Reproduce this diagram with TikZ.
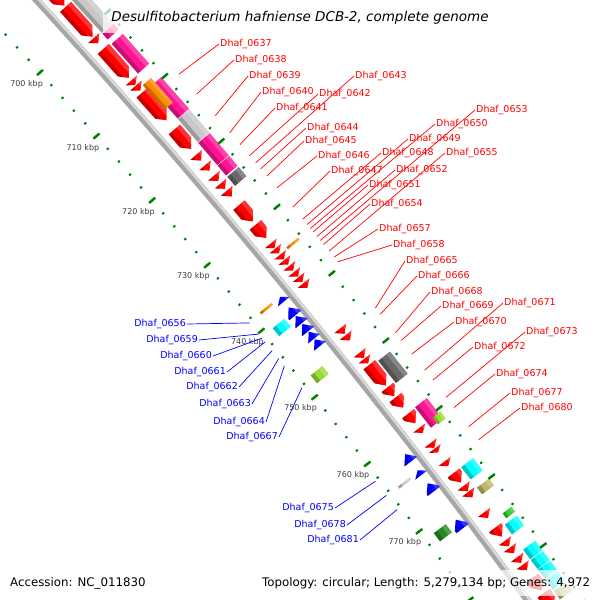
\documentclass[tikz,border=0pt]{standalone}
\usepackage{fontspec}
\setmainfont{DejaVu Sans}
\usetikzlibrary{calc}

\definecolor{cdsred}{RGB}{255,0,0}
\definecolor{cdsblue}{RGB}{0,0,255}
\definecolor{cogpink}{RGB}{255,20,147}
\definecolor{coggray}{RGB}{200,200,200}
\definecolor{cogdark}{RGB}{105,105,105}
\definecolor{cogorange}{RGB}{255,140,0}
\definecolor{cogcyan}{RGB}{0,255,255}
\definecolor{cogkhaki}{RGB}{189,183,107}
\definecolor{coglime}{RGB}{154,220,50}
\definecolor{coggreen}{RGB}{50,205,50}
\definecolor{cogforest}{RGB}{34,139,34}
\definecolor{tickgreen}{RGB}{0,128,0}
\definecolor{labgray}{RGB}{60,60,60}

\tikzset{
  backbone/.style={gray!70, line width=7pt},
  backlight/.style={gray!30, line width=2.5pt},
  minortick/.style={tickgreen, line width=2pt},
  majortick/.style={tickgreen, line width=2.4pt},
  ticklab/.style={text=labgray, inner sep=0pt, font=\fontsize{8}{8}\selectfont},
  fwdlab/.style={text=cdsred, anchor=west, inner sep=1pt, font=\fontsize{9.5}{10}\selectfont},
  revlab/.style={text=cdsblue, anchor=east, inner sep=1pt, font=\fontsize{9.5}{10}\selectfont},
  fwdline/.style={cdsred, line width=0.7pt},
  revline/.style={cdsblue, line width=0.7pt},
  legendbox/.style={fill=white, fill opacity=0.7},
  titletext/.style={inner sep=0pt, font=\fontsize{13.5}{14}\selectfont\itshape},
  foottext/.style={inner sep=0pt, anchor=west, font=\fontsize{11.8}{12}\selectfont}
}

% fill \featpath, then light top and dark bottom
\newcommand{\featfill}[4]{%
  \fill[#4] \featpath;
  \begin{scope}
    \clip \featpath;
    \fill[white, opacity=.2] ({ang(#1-1)}:{#3+0.4*\hw}) -- ({ang(#1-1)}:{#3+\hw+1})
      -- ({ang(#2+1)}:{#3+\hw+1}) -- ({ang(#2+1)}:{#3+0.4*\hw}) -- cycle;
    \fill[black, opacity=.22] ({ang(#1-1)}:{#3-\hw-1}) -- ({ang(#1-1)}:{#3-0.45*\hw})
      -- ({ang(#2+1)}:{#3-0.45*\hw}) -- ({ang(#2+1)}:{#3-\hw-1}) -- cycle;
  \end{scope}}

% forward CDS: start, end (kbp), colour
\newcommand{\fgene}[3]{%
  \def\hw{7.5}\def\rr{7210}%
  \pgfmathsetmacro\hd{min(1.0,#2-#1)}%
  \def\featpath{({ang(#1)}:{\rr-\hw}) -- ({ang(#1)}:{\rr+\hw}) -- ({ang(#2-\hd)}:{\rr+\hw})
    -- ({ang(#2)}:\rr) -- ({ang(#2-\hd)}:{\rr-\hw}) -- cycle}%
  \featfill{#1}{#2}{\rr}{#3}}

% reverse CDS
\newcommand{\rgene}[3]{%
  \def\hw{7.5}\def\rr{7183}%
  \pgfmathsetmacro\hd{min(1.0,#2-#1)}%
  \def\featpath{({ang(#2)}:{\rr-\hw}) -- ({ang(#2)}:{\rr+\hw}) -- ({ang(#1+\hd)}:{\rr+\hw})
    -- ({ang(#1)}:\rr) -- ({ang(#1+\hd)}:{\rr-\hw}) -- cycle}%
  \featfill{#1}{#2}{\rr}{#3}}

% COG block: [half width] start, end, radius, colour
\newcommand{\cogbox}[5][7.5]{%
  \def\hw{#1}%
  \def\featpath{({ang(#2)}:{#4-\hw}) -- ({ang(#2)}:{#4+\hw}) -- ({ang(#3)}:{#4+\hw})
    -- ({ang(#3)}:{#4-\hw}) -- cycle}%
  \featfill{#2}{#3}{#4}{#5}}

\begin{document}
\begin{tikzpicture}[x=1pt, y=1pt,
    declare function={ang(\k)=41.94-0.06819*(\k-700);}]
\useasboundingbox (0,-600) rectangle (600,0);
\clip (0,-600) rectangle (600,0);
\coordinate (O) at (-5276,-4849);

\begin{scope}[shift={(O)}]
  % backbone
  \draw[backbone] ({ang(686)}:7193) arc[start angle={ang(686)}, end angle={ang(792)}, radius=7193pt];
  \draw[backlight] ({ang(686)}:7195) arc[start angle={ang(686)}, end angle={ang(792)}, radius=7195pt];

  % forward strand
  \fgene{688.0}{696.1}{cdsred}
  \fgene{696.3}{701.0}{cdsred}
  \fgene{701.2}{702.0}{cdsred}
  \fgene{702.9}{707.4}{cdsred}
  \fgene{707.8}{708.5}{cdsred}
  \fgene{708.6}{709.4}{cdsred}
  \fgene{709.7}{714.0}{cdsred}
  \fgene{715.4}{718.4}{cdsred}
  \fgene{719.3}{720.2}{cdsred}
  \fgene{720.9}{721.7}{cdsred}
  \fgene{722.5}{723.3}{cdsred}
  \fgene{723.7}{724.5}{cdsred}
  \fgene{724.8}{725.7}{cdsred}
  \fgene{727.0}{729.5}{cdsred}
  \fgene{730.0}{732.0}{cdsred}
  \fgene{732.8}{733.5}{cdsred}
  \fgene{733.6}{734.3}{cdsred}
  \fgene{734.5}{735.2}{cdsred}
  \fgene{735.3}{736.0}{cdsred}
  \fgene{736.2}{736.9}{cdsred}
  \fgene{737.1}{737.8}{cdsred}
  \fgene{737.9}{738.6}{cdsred}
  \fgene{738.8}{739.5}{cdsred}
  \fgene{745.6}{746.4}{cdsred}
  \fgene{746.6}{747.4}{cdsred}
  \fgene{749.2}{750.0}{cdsred}
  \fgene{750.1}{750.8}{cdsred}
  \fgene{751.0}{754.1}{cdsred}
  \fgene{754.4}{755.7}{cdsred}
  \fgene{755.9}{757.4}{cdsred}
  \fgene{758.3}{759.7}{cdsred}
  \fgene{760.4}{761.1}{cdsred}
  \fgene{762.6}{763.3}{cdsred}
  \fgene{763.4}{764.0}{cdsred}
  \fgene{765.3}{766.0}{cdsred}
  \fgene{767.0}{768.4}{cdsred}
  \fgene{768.9}{769.7}{cdsred}
  \fgene{769.8}{770.6}{cdsred}
  \fgene{772.8}{773.6}{cdsred}
  \fgene{775.0}{776.3}{cdsred}
  \fgene{776.9}{777.7}{cdsred}
  \fgene{777.9}{778.7}{cdsred}
  \fgene{779.3}{780.1}{cdsred}
  \fgene{780.4}{781.2}{cdsred}
  \fgene{782.3}{784.1}{cdsred}
  \fgene{784.5}{786.5}{cdsred}

  % forward COG ring
  \cogbox{686.0}{701.4}{7227}{coggray}
  \cogbox{701.5}{702.4}{7227}{cogpink}
  \cogbox{703.1}{707.7}{7227}{cogpink}
  \cogbox{709.8}{714.7}{7227}{cogpink}
  \cogbox[5.5]{709.1}{712.9}{7221}{cogorange}
  \cogbox{714.8}{718.3}{7227}{coggray}
  \cogbox{718.4}{721.8}{7227}{cogpink}
  \cogbox{721.9}{723.4}{7227}{cogpink}
  \cogbox{723.6}{725.0}{7227}{cogdark}
  \cogbox{734.3}{734.6}{7227}{cogorange}
  \cogbox{751.3}{754.6}{7227}{cogdark}
  \cogbox{758.2}{761.2}{7227}{cogpink}
  \cogbox[5]{760.4}{761.4}{7232}{coglime}
  \cogbox{767.0}{768.8}{7227}{cogcyan}
  \cogbox{770.0}{771.0}{7227}{cogkhaki}
  \cogbox[5.5]{774.2}{774.9}{7230}{coggreen}
  \cogbox{775.4}{776.8}{7227}{cogcyan}
  \cogbox{779.0}{780.4}{7227}{cogcyan}
  \cogbox{780.5}{781.8}{7227}{cogcyan}
  \cogbox{781.9}{783.2}{7227}{cogcyan}
  \cogbox{783.4}{784.8}{7227}{cogcyan}
  \cogbox{785.0}{786.2}{7227}{cogkhaki}

  % reverse strand
  \rgene{738.3}{739.0}{cdsblue}
  \rgene{739.9}{741.1}{cdsblue}
  \rgene{741.2}{742.3}{cdsblue}
  \rgene{742.4}{743.5}{cdsblue}
  \rgene{743.6}{744.6}{cdsblue}
  \rgene{744.7}{745.7}{cdsblue}
  \rgene{761.8}{762.9}{cdsblue}
  \rgene{764.2}{764.9}{cdsblue}
  \rgene{766.1}{767.3}{cdsblue}
  \rgene{771.5}{772.8}{cdsblue}

  % reverse COG ring
  \cogbox{738.2}{738.5}{7165}{cogorange}
  \cogbox{740.6}{741.8}{7165}{cogcyan}
  \cogbox{747.7}{748.9}{7165}{coglime}
  \cogbox{764.3}{764.6}{7165}{coggray}
  \cogbox{771.2}{772.4}{7165}{cogforest}

  % ticks, both sides
  \foreach \k in {686,688,...,792} {
    \draw[minortick] ({ang(\k)}:7145.8) -- ({ang(\k)}:7148.2);
    \draw[minortick] ({ang(\k)}:7236.8) -- ({ang(\k)}:7239.2);
  }
  \foreach \k in {690,700,...,790} {
    \draw[majortick] ({ang(\k)}:7143) -- ({ang(\k)}:7151);
    \draw[majortick] ({ang(\k)}:7234) -- ({ang(\k)}:7242);
  }
  \foreach \k in {700,710,...,770}
    \node[ticklab] (kbp\k) at ({ang(\k)}:7129) {\k\ kbp};
\end{scope}

% forward labels
\foreach \g/\k/\x/\y in {0637/710.9/219/44, 0638/714.0/234/60, 0639/717.3/248/76,
    0640/719.9/261/92, 0641/721.7/275/108, 0642/723.4/318/94, 0643/724.5/354/76,
    0644/725.4/306/128, 0645/726.5/304/141, 0646/728.3/317/156, 0647/731.2/330/171,
    0648/733.0/381/153, 0649/733.8/408/139, 0650/734.4/435/124, 0651/734.9/368/185,
    0652/735.6/395/170, 0653/736.2/475/110, 0654/736.8/370/204, 0655/737.8/445/153,
    0657/738.7/378/229, 0658/739.4/392/245, 0665/746.3/405/261, 0666/747.2/417/276,
    0668/750.0/430/292, 0669/751.1/441/306, 0670/753.1/454/322, 0671/755.5/503/303,
    0672/757.0/473/347, 0673/759.5/525/332, 0674/761.0/495/374, 0677/763.8/510/393,
    0680/765.7/520/408} {
  \coordinate (f\g) at ($(O)+({ang(\k)}:7250)$);
  \node[fwdlab] (l\g) at (\x,-\y) {Dhaf\_\g};
  \draw[fwdline] (f\g) -- (l\g.west);
}

% reverse labels
\foreach \g/\k/\x/\y in {0656/738.4/187/324, 0659/740.1/199/340, 0660/740.7/213/356,
    0661/741.3/227/372, 0662/742.6/239/387, 0663/743.8/252/404, 0664/744.9/266/422,
    0667/748.2/279/437, 0675/762.2/335/508, 0678/764.3/347/525, 0681/766.4/360/540} {
  \coordinate (r\g) at ($(O)+({ang(\k)}:7143)$);
  \node[revlab] (l\g) at (\x,-\y) {Dhaf\_\g};
  \draw[revline] (r\g) -- (l\g.east);
}

% legends
\fill[legendbox] (103,-3) rectangle (497,-33);
\node[titletext] (title) at (300,-18) {Desulfitobacterium hafniense DCB-2, complete genome};
\fill[legendbox] (256,-570) rectangle (598,-596);
\node[foottext] (acc) at (10,-583) {Accession: NC\_011830};
\node[foottext] (topo) at (262,-583) {Topology: circular; Length: 5,279,134 bp; Genes: 4,972};
\end{tikzpicture}
\end{document}
